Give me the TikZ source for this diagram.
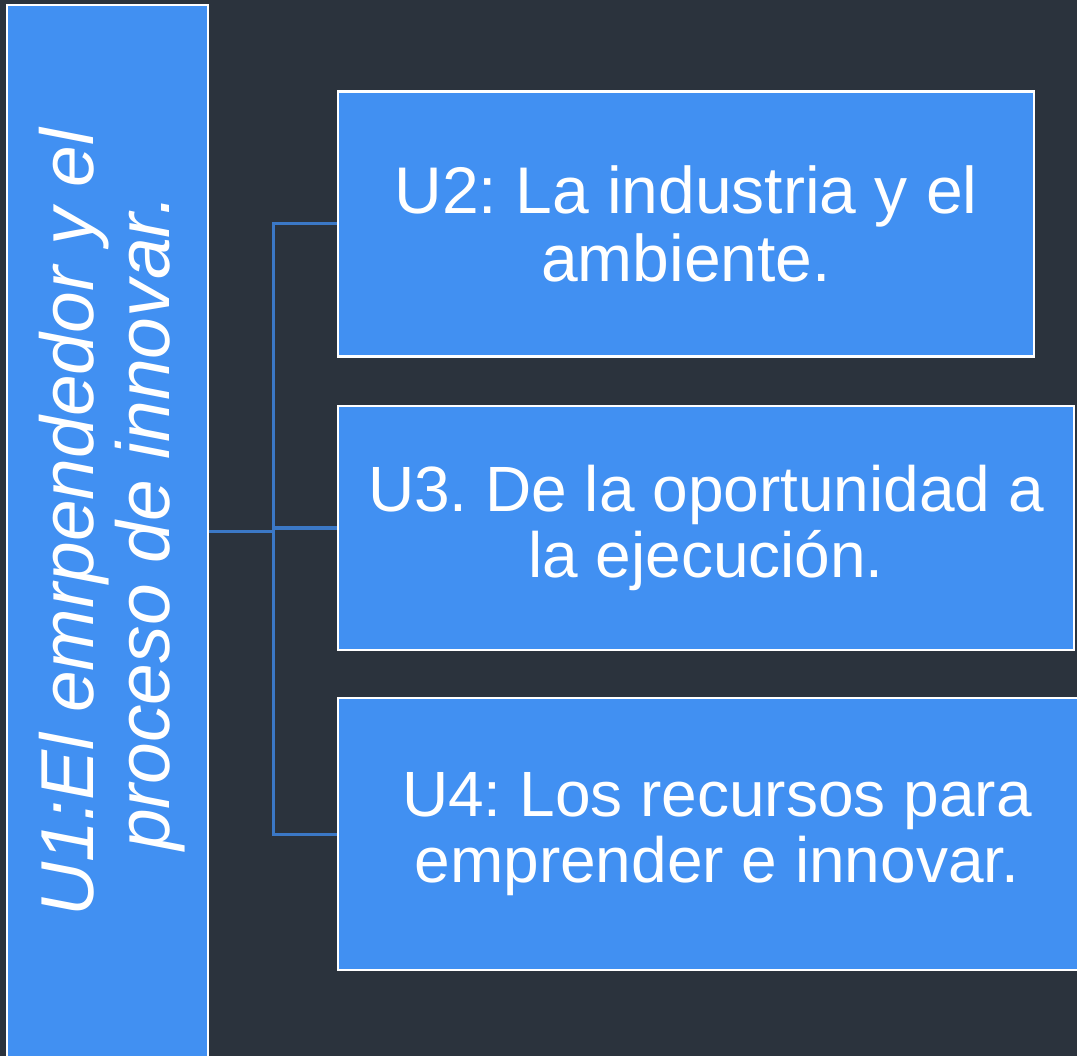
\documentclass[tikz,border=0pt]{standalone}
\usepackage{fontspec}
\setmainfont{Liberation Sans}
\usepackage{tikz}
\usetikzlibrary{positioning}
\frenchspacing
\definecolor{bgdark}{HTML}{2B333D}
\definecolor{unitblue}{HTML}{4190F2}
\definecolor{linkblue}{HTML}{3B78C6}
\tikzset{unit/.style={rectangle,draw=white,line width=2.5pt,fill=unitblue,text=white,
			align=center,inner sep=0pt,font=\fontsize{66}{68}\selectfont},
		link/.style={draw=linkblue,line width=3pt}}

\begin{document}
\begin{tikzpicture}[x=1pt,y=-1pt]
		\useasboundingbox (0,0) rectangle (1077,1056);
		\fill[bgdark] (0,0) rectangle (1077,1056);
		\clip (0,0) rectangle (1077,1056);
		\node[unit,minimum width=201pt,minimum height=1052pt] (u1) at (107.5,531) {};
		\node[rotate=90,text=white,align=center,font=\fontsize{75}{76}\selectfont\itshape] (u1-text) at (112,523) {U1:El emrpendedor y el\\proceso de innovar.};
		\node[unit,minimum width=696pt,minimum height=265pt] (u2) at (686,224) {U2: La industria y el\\ambiente.};
		\node[unit,minimum width=736pt,minimum height=244pt,font=\fontsize{64}{66}\selectfont] (u3) at (706,528) {U3. De la oportunidad a\\la ejecución.};
		\node[unit,minimum width=758pt,minimum height=272pt,font=\fontsize{64}{66}\selectfont] (u4) at (717,834) {U4: Los recursos para\\emprender e innovar.};
		\coordinate (hub) at (273,531);
		\draw[link] (u1.east) -- (hub);
		\draw[link] (hub) |- (u2.west);
		\draw[link] (hub) |- (u3.west);
		\draw[link] (hub) |- (u4.west);
	\end{tikzpicture}
\end{document}
